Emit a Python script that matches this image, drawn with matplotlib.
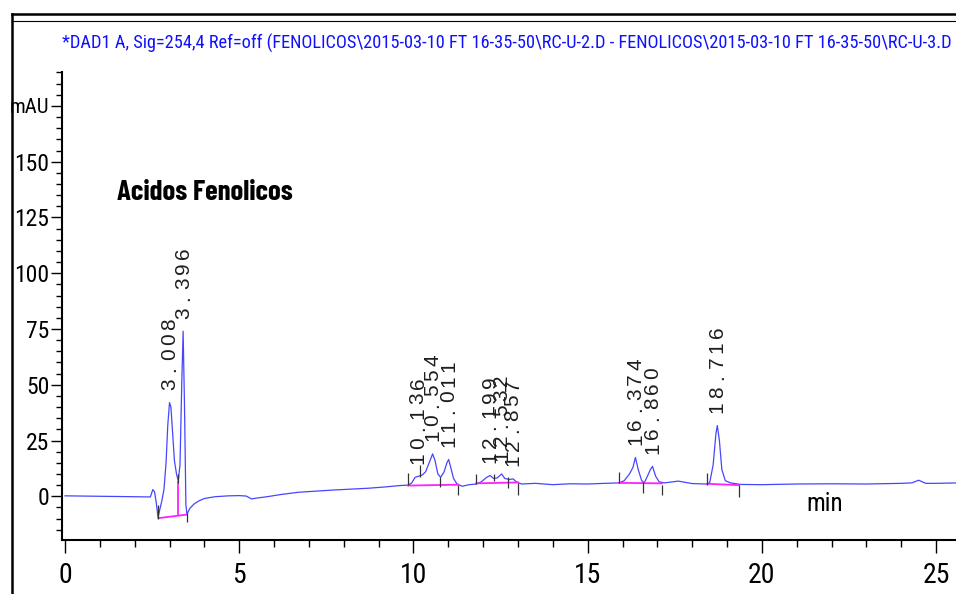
import matplotlib
matplotlib.use("Agg")
import matplotlib.pyplot as plt
from matplotlib.lines import Line2D
from matplotlib.ticker import MultipleLocator

# trace (min, mAU)
time_min = [0.0, 1.0, 2.0, 2.45, 2.52, 2.57, 2.62, 2.67, 2.72, 2.78, 2.84, 2.90, 2.95,
            3.00, 3.04, 3.09, 3.14, 3.20, 3.25, 3.30, 3.35, 3.39, 3.43, 3.47, 3.50,
            3.58, 3.70, 3.85, 4.0, 4.3, 4.7, 5.0, 5.2, 5.35, 5.5, 5.8, 6.2, 6.7, 7.2,
            7.7, 8.2, 8.7, 9.2, 9.6, 9.85, 9.95, 10.05, 10.15, 10.25, 10.35, 10.45,
            10.55, 10.62, 10.70, 10.78, 10.88, 10.96, 11.01, 11.07, 11.15, 11.25, 11.4,
            11.6, 11.8, 11.95, 12.1, 12.2, 12.3, 12.4, 12.53, 12.62, 12.75, 12.86,
            12.95, 13.1, 13.5, 14.0, 14.5, 15.0, 15.5, 15.9, 16.05, 16.2, 16.3, 16.37,
            16.45, 16.55, 16.62, 16.7, 16.8, 16.86, 16.95, 17.05, 17.2, 17.6, 18.0,
            18.4, 18.5, 18.6, 18.68, 18.72, 18.78, 18.85, 18.95, 19.1, 19.4, 20.0,
            21.0, 22.0, 23.0, 24.0, 24.3, 24.5, 24.7, 25.0, 25.6]
signal_mau = [0.2, 0.0, -0.2, -0.3, 3.0, 2.0, -3.0, -9.5, -6.0, -2.0, 3.0, 15.0, 32.0,
              42.0, 40.0, 28.0, 16.0, 10.0, 7.0, 14.0, 50.0, 74.0, 40.0, -4.0, -8.0,
              -5.5, -3.5, -2.0, -1.0, -0.2, 0.2, 0.3, 0.1, -1.2, -0.8, -0.2, 0.8, 1.8,
              2.3, 2.8, 3.2, 3.6, 4.2, 4.8, 5.0, 6.0, 8.5, 9.0, 9.5, 11.0, 15.0, 19.0,
              16.0, 10.0, 8.5, 11.0, 15.0, 16.5, 13.0, 8.0, 5.5, 4.5, 5.2, 5.5, 6.5,
              8.5, 9.3, 8.0, 8.2, 10.0, 8.0, 7.5, 7.8, 6.5, 5.5, 5.8, 5.2, 5.6, 5.5,
              5.8, 6.0, 7.0, 10.0, 13.0, 17.4, 12.0, 7.0, 6.0, 8.5, 12.0, 13.4, 9.0,
              6.5, 6.0, 6.8, 5.7, 5.5, 6.0, 14.0, 28.0, 31.7, 25.0, 12.0, 7.0, 6.0,
              5.3, 5.2, 5.5, 5.6, 5.5, 5.8, 6.0, 7.2, 5.8, 5.8, 6.0]

# peak retention times and apex heights
peak_labels = ["3.008", "3.396", "10.136", "10.554", "11.011", "12.199", "12.532",
               "12.857", "16.374", "16.860", "18.716"]
peak_h = [42.0, 74.0, 9.0, 19.0, 16.5, 9.3, 10.0, 7.8, 17.4, 13.4, 31.7]

# integration baselines (start t, start y, end t, end y)
base_t0 = [2.68, 9.85, 11.8, 15.9, 18.43]
base_y0 = [-9.8, 4.8, 5.8, 6.0, 5.6]
base_t1 = [3.50, 11.28, 13.0, 17.13, 19.34]
base_y1 = [-8.2, 5.2, 6.2, 5.8, 5.0]

# peak start / end markers
mark_t = [2.68, 3.25, 3.50, 9.85, 10.2, 10.76, 11.28, 11.8, 12.3, 12.7, 13.0,
          15.9, 16.6, 17.13, 18.43, 19.34]
mark_lo = [-10.0, 6.0, -11.6, 5.0, 8.5, 4.0, 0.5, 5.4, 6.7, 3.6, 0.4, 5.8, 1.3,
           0.4, 5.0, -0.4]
mark_hi = [-4.0, 10.0, -7.6, 10.3, 13.8, 8.5, 5.0, 10.0, 10.0, 8.5, 5.8, 10.7, 6.2,
           5.0, 10.3, 5.0]

y_major = [0, 25, 50, 75, 100, 125, 150, 175]
y_labels = ["0", "25", "50", "75", "100", "125", "150", "mAU"]

title = ("*DAD1 A, Sig=254,4 Ref=off (FENOLICOS\\2015-03-10 FT 16-35-50\\RC-U-2.D - "
         "FENOLICOS\\2015-03-10 FT 16-35-50\\RC-U-3.D")

plt.rcParams["font.family"] = ["Roboto Condensed", "DejaVu Sans"]

W, H = 956, 594
fig = plt.figure(figsize=(W / 100, H / 100), dpi=100)
ax = fig.add_axes([62 / W, 54 / H, 1 - 62 / W, (540 - 72) / H])

ax.plot(time_min, signal_mau, color="#4646ff", lw=0.9)
for t0, y0, t1, y1 in zip(base_t0, base_y0, base_t1, base_y1):
    ax.plot([t0, t1], [y0, y1], color="#ff20ff", lw=1.3)
ax.vlines(3.25, -8.8, 7.0, color="#ff20ff", lw=1.3)
ax.vlines(mark_t, mark_lo, mark_hi, color="#333333", lw=0.9)

# retention time labels, one character per slot
for lab, h in zip(peak_labels, peak_h):
    t = float(lab)
    for i, ch in enumerate(lab):
        ax.annotate(ch, xy=(t, h), xytext=(0, 18.5 + i * 15), textcoords="offset pixels",
                    rotation=90, ha="center", va="center", fontsize=15,
                    family="Liberation Sans", color="#1e1e1e")

ax.set_xlim(-0.086, 25.57)
ax.set_ylim(-19.6, 190.2)
ax.xaxis.set_major_locator(MultipleLocator(5))
ax.xaxis.set_minor_locator(MultipleLocator(1))
ax.set_yticks(y_major)
ax.set_yticklabels(y_labels)
ax.yaxis.set_minor_locator(MultipleLocator(5))
ax.tick_params(axis="y", which="major", length=8, width=1, pad=1, labelsize=17)
ax.tick_params(axis="y", which="minor", length=4.5, width=1)
ax.tick_params(axis="x", which="major", length=9, width=1, pad=7, labelsize=20)
ax.tick_params(axis="x", which="minor", length=5, width=1)
ax.get_yticklabels()[-1].set_fontsize(15)
for s in ["top", "right"]:
    ax.spines[s].set_visible(False)
for s in ["left", "bottom"]:
    ax.spines[s].set_linewidth(1.5)

ax.text(21.8, -3.5, "min", ha="center", va="center", fontsize=18)

head = fig.text(117 / W, 1 - 193 / H, "Acidos Fenolicos", fontsize=20, fontweight="bold",
                family=["Barlow Condensed", "Roboto Condensed"], ha="left", va="center")
ttl = fig.text(62 / W, 1 - 43 / H, title, color="#1010ff", fontsize=12,
               ha="left", va="center")
fig.canvas.draw()
ttl.set_fontsize(12 * 888 / ttl.get_window_extent().width)
head.set_fontsize(20 * 176 / head.get_window_extent().width)

# outer frame
fig.add_artist(Line2D([12 / W, 12 / W], [0, 1 - 14 / H], color="black", lw=1.8))
fig.add_artist(Line2D([12 / W, 1], [1 - 14 / H, 1 - 14 / H], color="black", lw=1.8))
fig.add_artist(Line2D([12 / W, 1], [1 - 21 / H, 1 - 21 / H], color="black", lw=0.8))

fig.savefig("out.png", dpi=100)
